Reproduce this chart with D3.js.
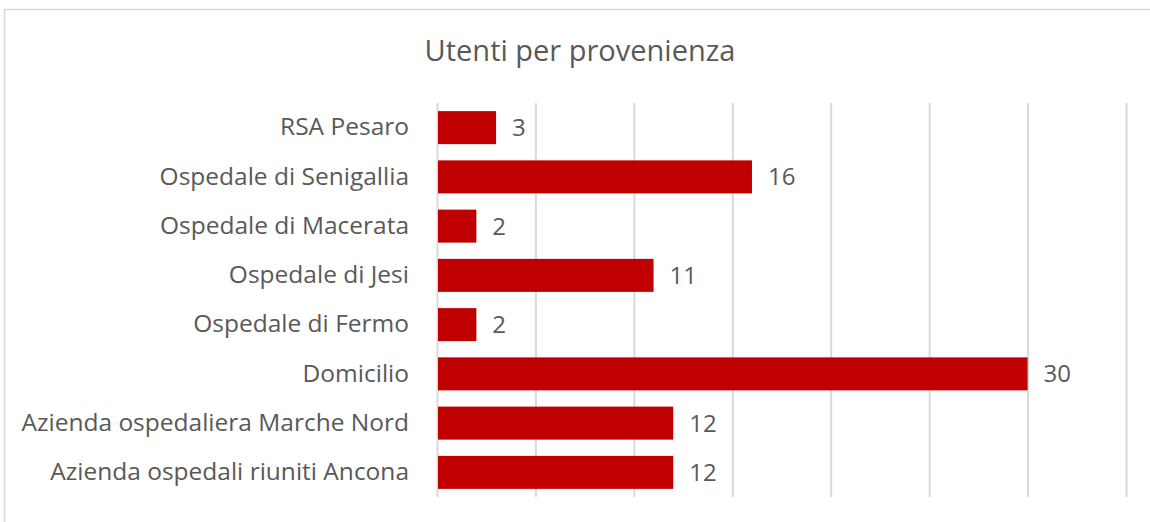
<!DOCTYPE html>
<html><head><meta charset="utf-8">
<script src="https://cdn.jsdelivr.net/npm/d3@7"></script>
<style>html,body{margin:0;padding:0;background:#fff;overflow:hidden}</style>
</head><body>
<svg id="c" width="1150" height="522"></svg>
<script>
const title = "Utenti per provenienza";
const categories = ["RSA Pesaro","Ospedale di Senigallia","Ospedale di Macerata","Ospedale di Jesi","Ospedale di Fermo","Domicilio","Azienda ospedaliera Marche Nord","Azienda ospedali riuniti Ancona"];
const values = [3,16,2,11,2,30,12,12];
const xTicks = [0,5,10,15,20,25,30,35];

const svg = d3.select("#c");
const font = "'Open Sans', sans-serif";
const textColor = "#595959";

svg.append("rect").attr("x",4.5).attr("y",9.5).attr("width",1200).attr("height",600)
  .attr("fill","#fff").attr("stroke","#d9d9d9").attr("stroke-width",1.5);

const x = d3.scaleLinear().domain([0,35]).range([437,1126]);
const y = d3.scaleBand().domain(categories).range([103,497]).paddingInner(0.33).paddingOuter(0.165);

svg.append("g").attr("transform","translate(0,497)")
  .call(d3.axisBottom(x).tickValues(xTicks).tickSize(-394).tickFormat(""))
  .call(g=>g.select(".domain").remove())
  .call(g=>g.selectAll(".tick line").attr("stroke","#d9d9d9").attr("stroke-width",2));

svg.append("g").selectAll("rect").data(values).join("rect")
  .attr("x",x(0)+1).attr("y",(d,i)=>y(categories[i]))
  .attr("width",d=>x(d)-x(0)-1).attr("height",y.bandwidth())
  .attr("fill","#c00000");

svg.append("g").selectAll("text").data(values).join("text")
  .attr("x",d=>x(d)+16).attr("y",(d,i)=>y(categories[i])+y.bandwidth()/2)
  .attr("dy","0.35em").attr("fill",textColor)
  .style("font-family",font).style("font-size","24px").text(d=>d);

svg.append("g").attr("transform","translate(409,0)")
  .call(d3.axisLeft(y).tickSize(0).tickPadding(0))
  .call(g=>g.select(".domain").remove())
  .call(g=>g.selectAll("text").attr("fill",textColor).style("font-family",font).style("font-size","24.5px"));

svg.append("text").attr("x",580).attr("y",61).attr("text-anchor","middle")
  .attr("fill",textColor).style("font-family",font).style("font-size","29px").text(title);
</script>
</body></html>
